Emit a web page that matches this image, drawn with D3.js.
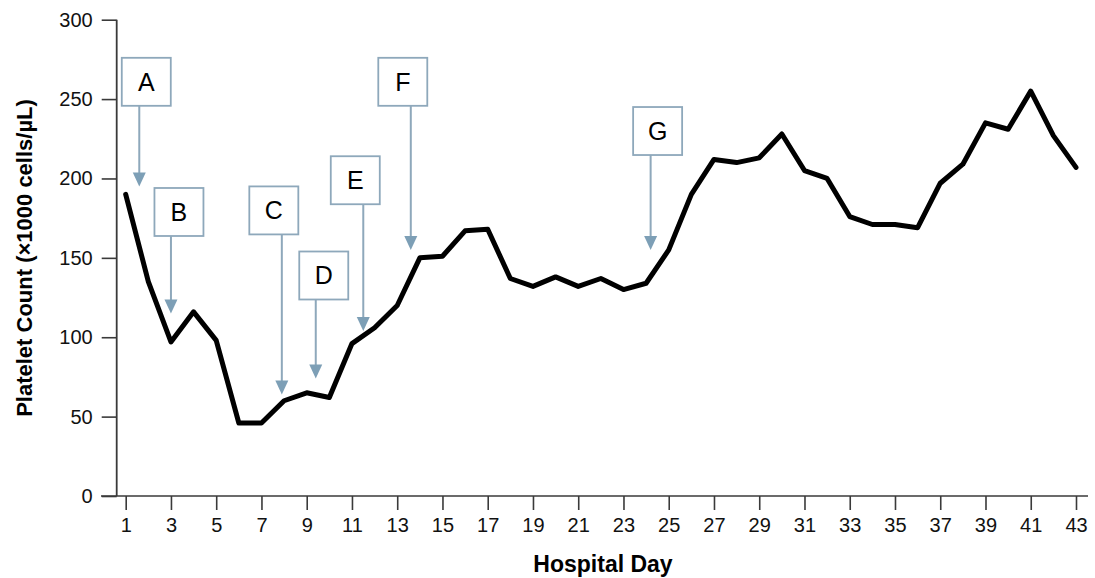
<!DOCTYPE html>
<html>
<head>
<meta charset="utf-8">
<script src="https://cdn.jsdelivr.net/npm/d3@7"></script>
<style>
  body { margin: 0; background: #fff; }
  svg { display: block; font-family: "Liberation Sans", Arial, sans-serif; }
</style>
</head>
<body>
<svg width="1095" height="578"></svg>
<script>
// Data: platelet count per hospital day
const days = d3.range(1, 44);
const platelets = [190, 135, 97, 116, 98, 46, 46, 60, 65, 62,
    96, 106, 120, 150, 151, 167, 168, 137, 132, 138,
    132, 137, 130, 134, 155, 190, 212, 210, 213, 228,
    205, 200, 176, 171, 171, 169, 197, 209, 235, 231,
    255, 227, 207];
const xTicks = d3.range(1, 44, 2);
const yTicks = [0, 50, 100, 150, 200, 250, 300];

// Event annotations: label, day the arrow points to, value at arrow tip, value at box top
const noteLabels = ["A", "B", "C", "D", "E", "F", "G"];
const noteDays = [1.6, 3, 7.9, 9.4, 11.5, 13.6, 24.2];
const noteTips = [195, 115, 64, 74, 104, 155, 155];
const noteTops = [276, 194, 195, 154, 214, 276, 245];
const noteShift = [7, 8, -8, 8, -8, -8, 7]; // box centre offset from arrow (px)

(function(){
    const svg = d3.select("svg");

    const x = d3.scaleLinear().domain([1, 43]).range([125.7, 1076]);
    const y = d3.scaleLinear().domain([0, 300]).range([496, 19.7]);
    const axisColor = "#3a3a3a";

    // Y axis
    const yAxis = svg.append("g")
        .attr("transform", "translate(116.7,0)")
        .call(d3.axisLeft(y).tickValues(yTicks).tickSize(15).tickPadding(9));
    yAxis.select(".domain").remove();
    yAxis.selectAll("line").attr("stroke", axisColor).attr("stroke-width", 1.6);
    yAxis.selectAll("text").attr("font-size", 20).attr("fill", "#111")
        .attr("font-family", "Liberation Sans, Arial, sans-serif");
    svg.append("line")
        .attr("x1", 116.7).attr("x2", 116.7)
        .attr("y1", y(300)).attr("y2", y(0))
        .attr("stroke", axisColor).attr("stroke-width", 1.8);

    // X axis
    const xAxis = svg.append("g")
        .attr("transform", `translate(0,${y(0)})`)
        .call(d3.axisBottom(x).tickValues(xTicks).tickSize(14).tickPadding(8));
    xAxis.select(".domain").remove();
    xAxis.selectAll("line").attr("stroke", axisColor).attr("stroke-width", 1.6);
    xAxis.selectAll("text").attr("font-size", 20).attr("fill", "#111")
        .attr("font-family", "Liberation Sans, Arial, sans-serif");
    svg.append("line")
        .attr("x1", 101).attr("x2", 1088)
        .attr("y1", y(0)).attr("y2", y(0))
        .attr("stroke", axisColor).attr("stroke-width", 1.6);

    // Axis titles
    svg.append("text")
        .attr("x", 603).attr("y", 572)
        .attr("text-anchor", "middle")
        .attr("font-size", 23).attr("font-weight", "bold")
        .text("Hospital Day");
    svg.append("text")
        .attr("transform", "translate(32,258) rotate(-90)")
        .attr("text-anchor", "middle")
        .attr("font-size", 22).attr("font-weight", "bold")
        .text("Platelet Count (\u00d71000 cells/\u00b5L)");

    // Platelet line
    const line = d3.line()
        .x((d, i) => x(days[i]))
        .y(d => y(d));
    svg.append("path")
        .datum(platelets)
        .attr("d", line)
        .attr("fill", "none")
        .attr("stroke", "#000")
        .attr("stroke-width", 5)
        .attr("stroke-linejoin", "round")
        .attr("stroke-linecap", "round");

    // Annotations
    const noteColor = "#8ea8bb";
    const boxW = 49, boxH = 48;
    noteLabels.forEach((lab, i) => {
        const ax = x(noteDays[i]);
        const tipY = y(noteTips[i]);
        const topY = y(noteTops[i]);
        const cx = ax + noteShift[i];
        const g = svg.append("g");
        g.append("line")
            .attr("x1", ax).attr("x2", ax)
            .attr("y1", topY + boxH).attr("y2", tipY - 12)
            .attr("stroke", noteColor).attr("stroke-width", 2);
        g.append("path")
            .attr("d", `M${ax - 6.5},${tipY - 14} L${ax + 6.5},${tipY - 14} L${ax},${tipY} Z`)
            .attr("fill", "#7d9fb6");
        g.append("rect")
            .attr("x", cx - boxW / 2).attr("y", topY)
            .attr("width", boxW).attr("height", boxH)
            .attr("fill", "#fff")
            .attr("stroke", noteColor).attr("stroke-width", 1.8);
        g.append("text")
            .attr("x", cx).attr("y", topY + boxH / 2 + 9)
            .attr("text-anchor", "middle")
            .attr("font-size", 25)
            .text(lab);
    });
})();
</script>
</body>
</html>
